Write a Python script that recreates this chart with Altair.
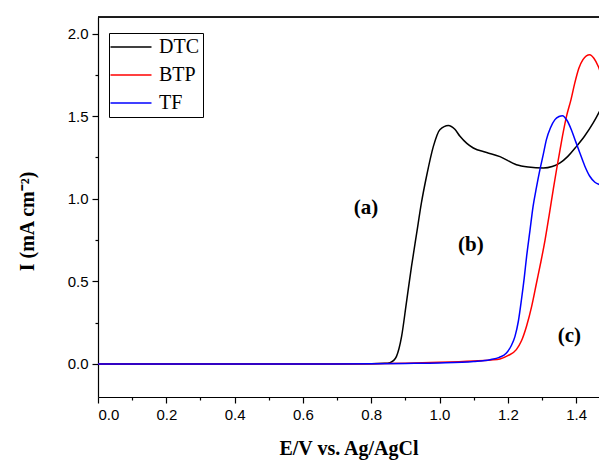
import altair as alt
import pandas as pd

# ---- data ----
dtc_x = [0.0, 0.3, 0.6, 0.8, 0.84, 0.855, 0.865, 0.874, 0.889, 0.903, 0.918, 0.933, 0.947, 0.962, 0.982, 1.001, 1.026,
         1.045, 1.06, 1.08, 1.099, 1.138, 1.177, 1.225, 1.26, 1.304, 1.33, 1.353, 1.375, 1.401, 1.425, 1.45, 1.47, 1.49]
dtc_y = [0.0, 0.0, 0.0, 0.002, 0.004, 0.008, 0.02, 0.046, 0.167, 0.37, 0.59, 0.79, 0.975, 1.136, 1.317, 1.418, 1.444,
         1.42, 1.378, 1.335, 1.307, 1.28, 1.255, 1.206, 1.192, 1.186, 1.195, 1.217, 1.255, 1.317, 1.38, 1.459, 1.535, 1.62]

btp_x = [0.0, 0.3, 0.6, 0.8, 0.9, 1.0, 1.1, 1.15, 1.177, 1.2, 1.225, 1.24, 1.255, 1.27, 1.284, 1.297, 1.309, 1.321,
         1.333, 1.343, 1.353, 1.362, 1.372, 1.385, 1.396, 1.408, 1.42, 1.43, 1.44, 1.452, 1.465, 1.477, 1.49]
btp_y = [0.0, 0.0, 0.0, 0.002, 0.005, 0.01, 0.018, 0.024, 0.03, 0.05, 0.087, 0.14, 0.23, 0.35, 0.49, 0.62, 0.75, 0.9,
         1.055, 1.18, 1.297, 1.4, 1.5, 1.6, 1.7, 1.79, 1.842, 1.865, 1.872, 1.85, 1.8, 1.73, 1.66]

tf_x = [0.0, 0.3, 0.6, 0.8, 0.9, 1.0, 1.1, 1.148, 1.175, 1.196, 1.21, 1.221, 1.231, 1.24, 1.248, 1.255, 1.265, 1.274,
        1.284, 1.294, 1.304, 1.313, 1.325, 1.338, 1.35, 1.36, 1.373, 1.386, 1.398, 1.411, 1.425, 1.44, 1.455, 1.47, 1.49]
tf_y = [0.0, 0.0, 0.0, 0.001, 0.003, 0.006, 0.015, 0.026, 0.04, 0.066, 0.11, 0.167, 0.26, 0.39, 0.52, 0.65, 0.81, 0.954,
        1.07, 1.176, 1.27, 1.358, 1.43, 1.479, 1.498, 1.503, 1.475, 1.418, 1.35, 1.277, 1.2, 1.136, 1.1, 1.085, 1.079]

series_names = ["DTC", "BTP", "TF"]
series_colors = ["#000000", "#ff0000", "#0000ff"]

notes = ["(a)", "(b)", "(c)"]
notes_x = [0.785, 1.092, 1.38]
notes_y = [0.944, 0.722, 0.167]

x_major = [0.0, 0.2, 0.4, 0.6, 0.8, 1.0, 1.2, 1.4]
x_minor = [0.1, 0.3, 0.5, 0.7, 0.9, 1.1, 1.3]
y_major = [0.0, 0.5, 1.0, 1.5, 2.0]
y_minor = [0.25, 0.75, 1.25, 1.75]

# ---- tables ----
rows = []
for name, xs, ys in [("DTC", dtc_x, dtc_y), ("BTP", btp_x, btp_y), ("TF", tf_x, tf_y)]:
    for i, (a, b) in enumerate(zip(xs, ys)):
        rows.append({"E": a, "I": b, "series": name, "order": i})
df = pd.DataFrame(rows)
notes_df = pd.DataFrame({"label": notes, "E": notes_x, "I": notes_y})

xscale = alt.Scale(domain=[0, 1.467], nice=False, zero=False)
yscale = alt.Scale(domain=[-0.2, 2.1], nice=False, zero=False)

label_font = "Liberation Sans"
serif = "Liberation Serif"

color = alt.Color(
    "series:N",
    scale=alt.Scale(domain=series_names, range=series_colors),
    sort=series_names,
    legend=alt.Legend(
        title=None, orient="none", legendX=11, legendY=16,
        direction="vertical",
        symbolType="M-4,0H4", symbolSize=105, symbolStrokeWidth=1.6,
        labelFont=serif, labelFontSize=20, labelColor="black",
        strokeColor="black", fillColor="white", padding=4,
        rowPadding=8, labelOffset=18, symbolOffset=8,
    ),
)

lines = alt.Chart(df).mark_line(strokeWidth=1.5, clip=True, interpolate="monotone").encode(
    x=alt.X("E:Q", scale=xscale, axis=alt.Axis(
        values=x_major, format=".1f", title="E/V vs. Ag/AgCl", titleFont=serif,
        titleFontSize=20, titleFontWeight="bold", titleColor="black", titlePadding=16,
        labelFont=label_font, labelFontSize=15, labelColor="black", labelPadding=4,
        tickSize=6, tickColor="black", domainColor="black", domainWidth=1.2, tickWidth=1.2,
        grid=False, orient="bottom")),
    y=alt.Y("I:Q", scale=yscale, axis=alt.Axis(
        values=y_major, format=".1f", title="I (mA cm⁻²)", titleFont=serif,
        titleFontSize=20, titleFontWeight="bold", titleColor="black",
        titleX=-71, titleY=204, titleAngle=270, titleAlign="center", titleBaseline="middle",
        labelFont=label_font, labelFontSize=15, labelColor="black", labelPadding=4,
        tickSize=6, tickColor="black", domainColor="black", domainWidth=1.2, tickWidth=1.2,
        grid=False, orient="left")),
    color=color,
    order="order:Q",
)

minor = alt.Chart(df).mark_line(opacity=0, clip=True).encode(
    x=alt.X("E:Q", scale=xscale, axis=alt.Axis(
        values=x_minor, labels=False, title=None, tickSize=3, tickColor="black", tickWidth=1.2,
        domain=False, grid=False, orient="bottom")),
    y=alt.Y("I:Q", scale=yscale, axis=alt.Axis(
        values=y_minor, labels=False, title=None, tickSize=3, tickColor="black", tickWidth=1.2,
        domain=False, grid=False, orient="left")),
    detail="series:N",
)

# top frame line of the plot area
top = alt.Chart(notes_df).mark_rule(color="black", strokeWidth=1.2).encode(
    x=alt.value(0), x2=alt.value(501), y=alt.value(0),
)

texts = alt.Chart(notes_df).mark_text(font=serif, fontSize=21, fontWeight="bold", color="black").encode(
    x=alt.X("E:Q", scale=xscale, axis=None),
    y=alt.Y("I:Q", scale=yscale, axis=None),
    text="label:N",
)

chart = alt.layer(lines, minor, texts, top).resolve_axis(
    x="independent", y="independent"
).properties(
    width=501, height=380,
    autosize=alt.AutoSizeParams(type="none"),
    padding={"left": 90, "top": 9, "right": 0, "bottom": 64},
).configure_view(stroke=None).configure(background="white")

chart.save("out.html", embed_options={"renderer": "svg", "actions": False})
